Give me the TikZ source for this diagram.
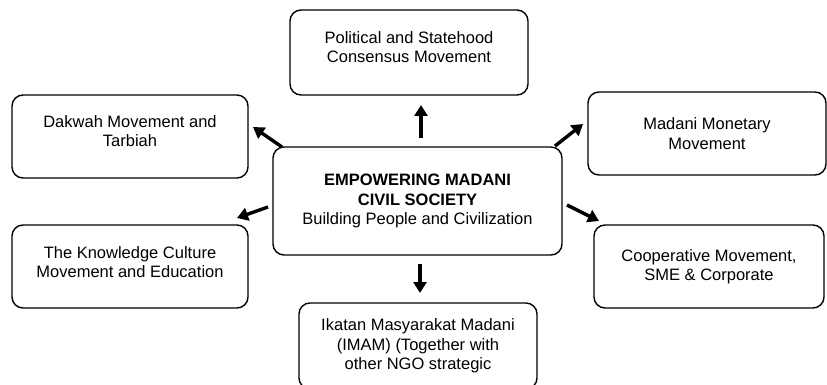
\documentclass[tikz,border=0pt]{standalone}
\usepackage{fontspec}
\setmainfont{Liberation Sans}
\usetikzlibrary{arrows.meta}

\tikzset{
  box/.style={draw, line width=1.4pt, rounded corners=11pt, align=center,
    minimum width=238pt, minimum height=84pt, inner sep=0pt,
    font=\fontsize{16.5}{19.5}\selectfont},
  arr/.style={line width=3.4pt, -{Triangle[length=11pt,width=13pt]}}
}

\begin{document}
\begin{tikzpicture}[x=1pt,y=-1pt]
\useasboundingbox (0,0) rectangle (827,385);
\clip (0,0) rectangle (827,385);

\node[box, minimum width=289pt, minimum height=108pt] (centre) at (417.5,201)
  {\textbf{EMPOWERING MADANI}\\ \textbf{CIVIL SOCIETY}\\ Building People and Civilization};

\node[box, minimum height=85pt] (polit) at (409,52.5) {Political and Statehood\\ Consensus Movement\\[-9pt]};
\node[box, minimum width=236pt, minimum height=83pt] (dakwah) at (130,136.5) {Dakwah Movement and\\ Tarbiah\\[-9pt]};
\node[box, minimum height=83pt] (monet) at (707,133.5) {Madani Monetary\\ Movement};
\node[box, minimum width=236pt, minimum height=83pt] (know) at (130,266.5) {The Knowledge Culture\\ Movement and Education\\[-11pt]};
\node[box, minimum width=230pt, minimum height=83pt] (coop) at (709,266.5) {Cooperative Movement,\\ SME \& Corporate};
\node[box, minimum height=86pt] (imam) at (418,346) {Ikatan Masyarakat Madani\\ (IMAM) (Together with\\ other NGO strategic};

% arrow ends
\coordinate (polit-a) at (421,138);  \coordinate (polit-b) at (421,105);
\coordinate (dakwah-a) at (282,147); \coordinate (dakwah-b) at (253,127);
\coordinate (monet-a) at (555,146);  \coordinate (monet-b) at (583,124);
\coordinate (know-a) at (268,207);   \coordinate (know-b) at (237,218);
\coordinate (coop-a) at (567,205);   \coordinate (coop-b) at (599,221);
\coordinate (imam-a) at (420,264);   \coordinate (imam-b) at (420,293);

\draw[arr] (polit-a) -- (polit-b);
\draw[arr] (dakwah-a) -- (dakwah-b);
\draw[arr] (monet-a) -- (monet-b);
\draw[arr] (know-a) -- (know-b);
\draw[arr] (coop-a) -- (coop-b);
\draw[arr] (imam-a) -- (imam-b);
\end{tikzpicture}
\end{document}
